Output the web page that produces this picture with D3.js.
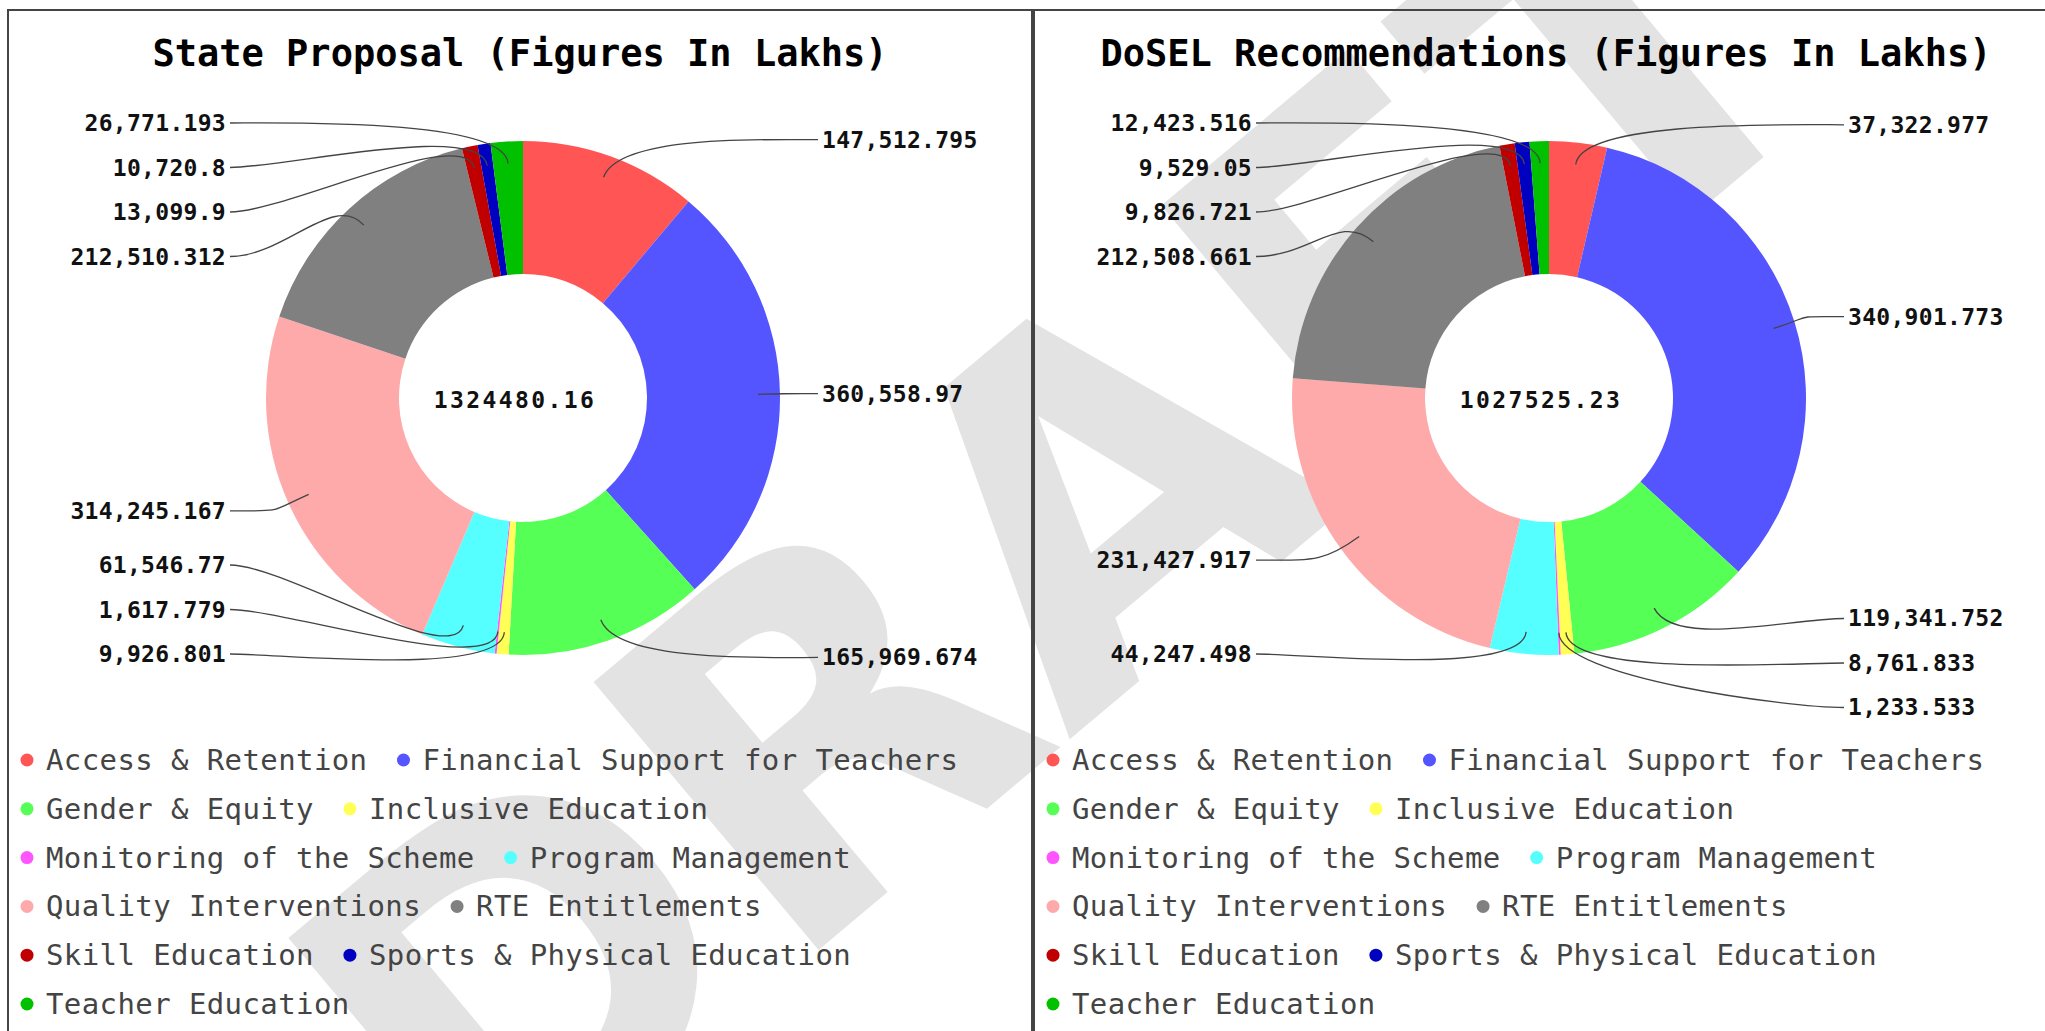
<!DOCTYPE html>
<html>
<head>
<meta charset="utf-8">
<script src="https://cdn.jsdelivr.net/npm/d3@7"></script>
<style>
  html, body { margin: 0; padding: 0; background: #fff; }
  svg { display: block; }
  .title { font-family: "DejaVu Sans Mono", monospace; font-weight: bold; font-size: 37px; fill: #000; }
  .total { font-family: "DejaVu Sans Mono", monospace; font-weight: bold; font-size: 23px; letter-spacing: 2.4px; fill: #111; }
  .label { font-family: "DejaVu Sans Mono", monospace; font-weight: bold; font-size: 23px; letter-spacing: 0.3px; fill: #111; }
  .legend text { font-family: "DejaVu Sans Mono", monospace; font-size: 29px; letter-spacing: 0.4px; fill: #444; }
  .watermark { font-family: "DejaVu Sans", sans-serif; font-weight: bold; font-size: 480px; fill: #e3e3e3; }
</style>
</head>
<body>
<svg id="chart" width="2045" height="1031"></svg>
<script>
const categories = [
    'Access & Retention', 'Financial Support for Teachers', 'Gender & Equity',
    'Inclusive Education', 'Monitoring of the Scheme', 'Program Management',
    'Quality Interventions', 'RTE Entitlements', 'Skill Education',
    'Sports & Physical Education', 'Teacher Education'
];
const stateValues = [147512.795, 360558.97, 165969.674, 9926.801, 1617.779, 61546.77,
    314245.167, 212510.312, 13099.9, 10720.8, 26771.193];
const doselValues = [37322.977, 340901.773, 119341.752, 8761.833, 1233.533, 44247.498,
    231427.917, 212508.661, 9826.721, 9529.05, 12423.516];
const colors = ['#ff5555', '#5555ff', '#55ff55', '#ffff55', '#ff55ff', '#55ffff',
    '#ffaaaa', '#808080', '#c00000', '#0000c0', '#00c000'];
const titles = ['State Proposal (Figures In Lakhs)', 'DoSEL Recommendations (Figures In Lakhs)'];

const svg = d3.select('#chart');

// big DRAFT stamp behind both charts
svg.append('text')
    .attr('class', 'watermark')
    .attr('text-anchor', 'middle')
    .attr('dominant-baseline', 'central')
    .attr('transform', 'translate(1060,530) rotate(-40)')
    .text('DRAFT');

class DonutChart {
    constructor(_config, _values) {
        this.config = {
            parentElement: _config.parentElement,
            x: _config.x,
            width: _config.width,
            title: _config.title,
            innerRadius: 124,
            outerRadius: 257
        };
        this.data = categories.map((c, i) => ({ name: c, value: _values[i], color: colors[i] }));
        this.initVis();
    }

    initVis() {
        let vis = this;
        vis.cx = vis.config.x + vis.config.width / 2 + 3;
        vis.cy = 398;

        vis.g = d3.select(vis.config.parentElement).append('g');

        vis.g.append('rect')
            .attr('x', vis.config.x + 1)
            .attr('y', 10)
            .attr('width', vis.config.width - 2)
            .attr('height', 1100)
            .attr('fill', 'none')
            .attr('stroke', '#444')
            .attr('stroke-width', 2);

        vis.g.append('text')
            .attr('class', 'title')
            .attr('x', vis.config.x + vis.config.width / 2)
            .attr('y', 66)
            .attr('text-anchor', 'middle')
            .text(vis.config.title);

        vis.pie = d3.pie().sort(null).value(d => d.value);
        vis.arc = d3.arc()
            .innerRadius(vis.config.innerRadius)
            .outerRadius(vis.config.outerRadius);

        vis.renderVis();
    }

    point(angle, r) {
        return [this.cx + r * Math.sin(angle), this.cy - r * Math.cos(angle)];
    }

    // push overlapping labels apart, keeping groups centred on their slices
    spread(list, gap, lo, hi) {
        list.sort((a, b) => a.ny - b.ny);
        let groups = [];
        const place = grp => {
            const n = grp.members.length;
            const mean = d3.mean(grp.members, d => d.ny);
            grp.start = Math.max(lo, Math.min(hi - (n - 1) * gap, mean - (n - 1) * gap / 2));
        };
        list.forEach(d => {
            let grp = { members: [d] };
            place(grp);
            groups.push(grp);
            while (groups.length > 1) {
                const last = groups[groups.length - 1];
                const prev = groups[groups.length - 2];
                if (last.start < prev.start + prev.members.length * gap) {
                    prev.members = prev.members.concat(last.members);
                    place(prev);
                    groups.pop();
                } else break;
            }
        });
        groups.forEach(grp => grp.members.forEach((d, i) => d.y = grp.start + i * gap));
    }

    renderVis() {
        let vis = this;
        const arcs = vis.pie(vis.data);

        vis.g.append('circle')
            .attr('cx', vis.cx)
            .attr('cy', vis.cy)
            .attr('r', vis.config.innerRadius)
            .attr('fill', '#fff');

        vis.g.append('g')
            .attr('transform', `translate(${vis.cx},${vis.cy})`)
            .selectAll('path')
            .data(arcs)
            .join('path')
            .attr('d', vis.arc)
            .attr('fill', d => d.data.color);

        vis.g.append('text')
            .attr('class', 'total')
            .attr('x', vis.cx - 8)
            .attr('y', vis.cy + 2)
            .attr('text-anchor', 'middle')
            .attr('dominant-baseline', 'central')
            .text(d3.format('.2f')(d3.sum(vis.data, d => d.value)));

        // label positions
        const labels = arcs.map(d => {
            const mid = (d.startAngle + d.endAngle) / 2;
            return { arc: d, mid: mid, right: mid < Math.PI, ny: vis.point(mid, 275)[1] };
        });
        vis.spread(labels.filter(d => d.right), 44.5, vis.cy - 275, vis.cy + 310);
        vis.spread(labels.filter(d => !d.right), 44.5, vis.cy - 275, vis.cy + 256);

        labels.forEach(d => {
            const lx = d.right ? vis.cx + 299 : vis.cx - 297;
            const p0 = [d.right ? lx - 4 : lx + 4, d.y];
            const p1 = [p0[0] + (d.right ? -55 : 55), d.y];
            const p2 = vis.point(d.mid, 280);
            const p3 = vis.point(d.mid, 235);
            const path = d3.path();
            path.moveTo(p0[0], p0[1]);
            path.bezierCurveTo(p1[0], p1[1], p2[0], p2[1], p3[0], p3[1]);

            vis.g.append('path')
                .attr('d', path.toString())
                .attr('fill', 'none')
                .attr('stroke', '#444')
                .attr('stroke-width', 1.3);

            vis.g.append('text')
                .attr('class', 'label')
                .attr('x', lx)
                .attr('y', d.y)
                .attr('text-anchor', d.right ? 'start' : 'end')
                .attr('dominant-baseline', 'central')
                .text(d3.format(',')(d.arc.data.value));
        });

        // legend, wrapping inside the panel
        const legend = vis.g.append('g').attr('class', 'legend');
        const left = vis.config.x + 20;
        const maxX = vis.config.x + vis.config.width - 20;
        let x = left, row = 0;
        vis.data.forEach(d => {
            const item = legend.append('g');
            item.append('circle').attr('r', 6.5).attr('fill', d.color);
            const t = item.append('text')
                .attr('x', 19)
                .attr('dominant-baseline', 'central')
                .text(d.name);
            const w = t.node().getComputedTextLength();
            if (x + 19 + w > maxX && x > left) { row++; x = left; }
            item.attr('transform', `translate(${x},${760 + row * 48.8})`);
            x += 19 + w + 36;
        });
    }
}

new DonutChart({ parentElement: '#chart', x: 7, width: 1026, title: titles[0] }, stateValues);
new DonutChart({ parentElement: '#chart', x: 1033, width: 1026, title: titles[1] }, doselValues);
</script>
</body>
</html>
